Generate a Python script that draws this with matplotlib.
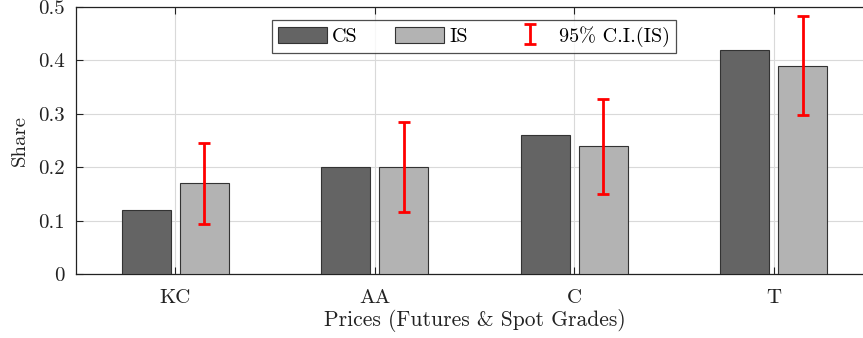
import numpy as np
import matplotlib.pyplot as plt

plt.rcParams['font.family'] = 'serif'
plt.rcParams['font.serif'] = ['cmr10', 'DejaVu Serif']
plt.rcParams['mathtext.fontset'] = 'cm'
plt.rcParams['axes.formatter.use_mathtext'] = True

# shares per price series
labels = ['KC', 'AA', 'C', 'T']
cs = [0.12, 0.20, 0.26, 0.42]
is_ = [0.17, 0.20, 0.24, 0.39]
ci_lo = [0.094, 0.116, 0.149, 0.298]
ci_hi = [0.245, 0.285, 0.328, 0.484]

x = np.arange(1, len(labels) + 1)
off = 0.145
w = 0.245

fig = plt.figure(figsize=(8.63, 3.38), dpi=100)
ax = fig.add_axes([75.5 / 863, 64 / 338, 798 / 863, 267 / 338])

ax.bar(x - off, cs, w, color='#646464', edgecolor='#333333', linewidth=0.8, label='CS', zorder=3)
ax.bar(x + off, is_, w, color='#b3b3b3', edgecolor='#333333', linewidth=0.8, label='IS', zorder=3)
mid = (np.array(ci_lo) + np.array(ci_hi)) / 2
err = (np.array(ci_hi) - np.array(ci_lo)) / 2
ax.errorbar(x + off, mid, yerr=err, fmt='none', ecolor='red', elinewidth=2,
            capsize=4.5, capthick=2, label='95% C.I.(IS)', zorder=4)

ax.set_xlim(0.5, 4.5)
ax.set_ylim(0, 0.5)
ax.set_xticks(x)
ax.set_xticklabels(labels)
ax.set_yticks(np.arange(0, 0.51, 0.1))
ax.set_yticklabels(['0', '0.1', '0.2', '0.3', '0.4', '0.5'])
ax.tick_params(direction='in', top=True, right=True, labelsize=15, colors='#222222', length=5, width=0.8)
ax.tick_params(axis='x', pad=11)
ax.tick_params(axis='y', pad=8)
ax.grid(True, color='#d9d9d9', linewidth=0.8, zorder=0)
for s in ax.spines.values():
    s.set_color('#222222')
    s.set_linewidth(0.9)

ax.set_xlabel('Prices (Futures & Spot Grades)', fontsize=15.5, color='#222222', labelpad=1)
ax.set_ylabel('Share', fontsize=15, color='#222222', labelpad=6)

leg = ax.legend(loc='upper center', bbox_to_anchor=(0.4994, 0.951), borderaxespad=0, ncol=3,
                fontsize=14.5, frameon=True, fancybox=False, edgecolor='#222222',
                columnspacing=1.85, handlelength=2.45, handleheight=0.87, handletextpad=0.25,
                borderpad=0.3)
leg.get_frame().set_linewidth(0.9)

fig.savefig('out.png', dpi=100)
